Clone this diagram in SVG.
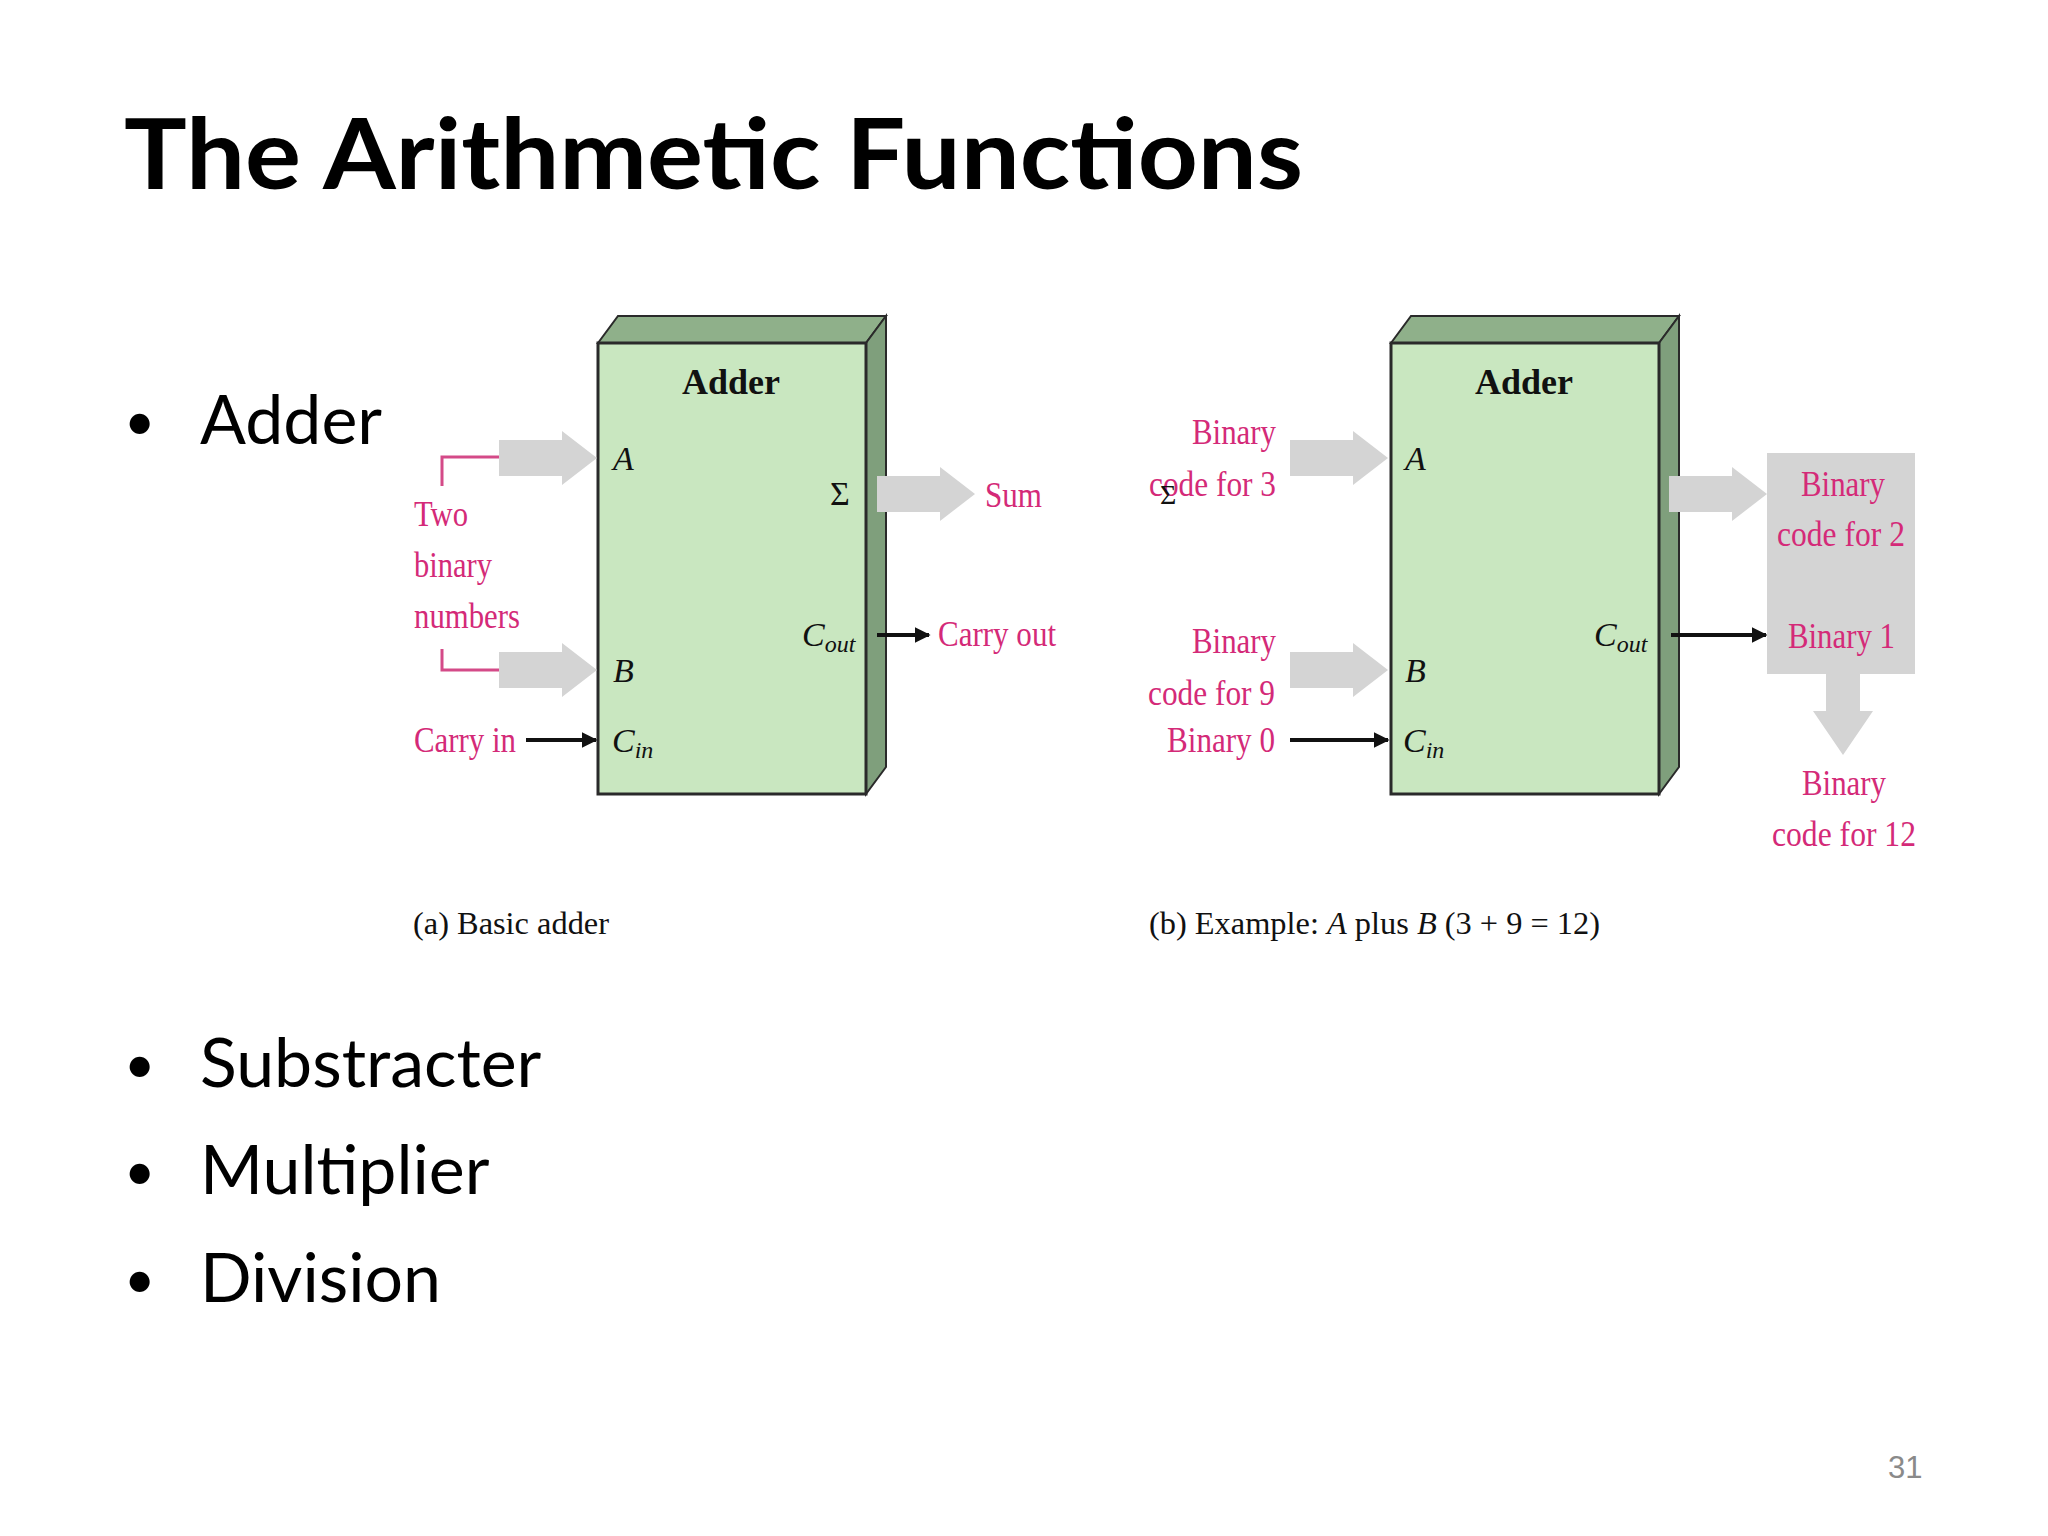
<svg xmlns="http://www.w3.org/2000/svg" width="2048" height="1536" viewBox="0 0 2048 1536">
<style>
.title{font-family:Lato,"Open Sans",sans-serif;font-weight:bold;font-size:98px;fill:#000}
.bul{font-family:Lato,"Open Sans",sans-serif;font-size:68px;fill:#000}
.dot{font-family:Lato,"Open Sans",sans-serif;font-size:54px;fill:#000}
.pk{font-family:"Liberation Serif",serif;font-size:36px;fill:#d42a78}
.lb{font-family:"Liberation Serif",serif;font-size:34px;fill:#111;font-style:italic}
.sub{font-size:24px}
.hd{font-family:"Liberation Serif",serif;font-size:36px;font-weight:bold;fill:#111}
.cap{font-family:"Liberation Serif",serif;font-size:32px;fill:#111}
.front{fill:#c9e7c0;stroke:#2a2a2a;stroke-width:3}
.top{fill:#8fb08a;stroke:#2a2a2a;stroke-width:2}
.side{fill:#7f9f7c;stroke:#2a2a2a;stroke-width:2}
.garr{fill:#d4d4d4}
.br{fill:none;stroke:#d44a88;stroke-width:3}
.blk{stroke:#111;stroke-width:4;marker-end:url(#ah)}
</style>
<defs>
<marker id="ah" viewBox="0 0 10 10" refX="9" refY="5" markerWidth="4" markerHeight="4" orient="auto" markerUnits="strokeWidth"><path d="M0,0 L10,5 L0,10 z" fill="#111"/></marker>
<path id="garrow" d="M0,-18 L63,-18 L63,-27 L98,0 L63,27 L63,18 L0,18 z"/>
</defs>
<rect width="2048" height="1536" fill="#fff"/>
<text class="title" x="124" y="189" textLength="1179" lengthAdjust="spacingAndGlyphs">The Arithmetic Functions</text>
<g id="bullets">
<text class="dot" x="124" y="440">•</text><text class="bul" x="200" y="444">Adder</text>
<text class="dot" x="124" y="1083">•</text><text class="bul" x="200" y="1087">Substracter</text>
<text class="dot" x="124" y="1190">•</text><text class="bul" x="200" y="1194">Multiplier</text>
<text class="dot" x="124" y="1298">•</text><text class="bul" x="200" y="1302">Division</text>
</g>
<g id="adderA">
<polygon class="top" points="598,343 618,316 886,316 866,343"/>
<polygon class="side" points="866,343 886,316 886,767 866,794"/>
<rect class="front" x="598" y="343" width="268" height="451"/>
<text class="hd" x="731" y="394" text-anchor="middle">Adder</text>
<text class="lb" x="613" y="470">A</text>
<text class="lb" x="830" y="505" style="font-style:normal">Σ</text>
<text class="lb" x="613" y="682">B</text>
<text class="lb" x="612" y="752">C<tspan class="sub" dy="6">in</tspan></text>
<text class="lb" x="802" y="646">C<tspan class="sub" dy="6">out</tspan></text>
</g>
<g id="adderB">
<polygon class="top" points="1391,343 1411,316 1679,316 1659,343"/>
<polygon class="side" points="1659,343 1679,316 1679,767 1659,794"/>
<rect class="front" x="1391" y="343" width="268" height="451"/>
<text class="hd" x="1524" y="394" text-anchor="middle">Adder</text>
<text class="lb" x="1405" y="470">A</text>
<text class="lb" x="1405" y="682">B</text>
<text class="lb" x="1403" y="752">C<tspan class="sub" dy="6">in</tspan></text>
<text class="lb" x="1594" y="646">C<tspan class="sub" dy="6">out</tspan></text>
</g>
<g id="connectors">
<use href="#garrow" class="garr" x="499" y="458"/>
<use href="#garrow" class="garr" x="499" y="670"/>
<use href="#garrow" class="garr" x="877" y="494"/>
<polyline class="br" points="499,457 442,457 442,486"/>
<polyline class="br" points="442,649 442,670 499,670"/>
<line class="blk" x1="526" y1="740" x2="596" y2="740"/>
<line class="blk" x1="877" y1="635" x2="929" y2="635"/>
<use href="#garrow" class="garr" x="1290" y="458"/>
<use href="#garrow" class="garr" x="1290" y="670"/>
<use href="#garrow" class="garr" x="1669" y="494"/>
<line class="blk" x1="1290" y1="740" x2="1388" y2="740"/>
<line class="blk" x1="1671" y1="635" x2="1766" y2="635"/>
<rect x="1767" y="453" width="148" height="221" fill="#d4d4d4"/>
<path class="garr" d="M1826,674 L1860,674 L1860,711 L1873,711 L1843,755 L1813,711 L1826,711 z"/>
</g>
<g id="labelsA">
<text class="pk" x="414" y="526" textLength="54" lengthAdjust="spacingAndGlyphs">Two</text>
<text class="pk" x="414" y="577" textLength="78" lengthAdjust="spacingAndGlyphs">binary</text>
<text class="pk" x="414" y="628" textLength="106" lengthAdjust="spacingAndGlyphs">numbers</text>
<text class="pk" x="414" y="752" textLength="102" lengthAdjust="spacingAndGlyphs">Carry in</text>
<text class="pk" x="985" y="507" textLength="57" lengthAdjust="spacingAndGlyphs">Sum</text>
<text class="pk" x="938" y="646" textLength="118" lengthAdjust="spacingAndGlyphs">Carry out</text>
<text class="cap" x="413" y="934" textLength="196" lengthAdjust="spacingAndGlyphs">(a)  Basic adder</text>
</g>
<g id="labelsB">
<text class="pk" x="1192" y="444" textLength="84" lengthAdjust="spacingAndGlyphs">Binary</text>
<text class="pk" x="1149" y="496" textLength="127" lengthAdjust="spacingAndGlyphs">code for 3</text>
<text class="lb" x="1160" y="504" style="font-style:normal;font-size:28px">Σ</text>
<text class="pk" x="1192" y="653" textLength="84" lengthAdjust="spacingAndGlyphs">Binary</text>
<text class="pk" x="1148" y="705" textLength="127" lengthAdjust="spacingAndGlyphs">code for 9</text>
<text class="pk" x="1167" y="752" textLength="108" lengthAdjust="spacingAndGlyphs">Binary 0</text>
<text class="pk" x="1801" y="496" textLength="84" lengthAdjust="spacingAndGlyphs">Binary</text>
<text class="pk" x="1777" y="546" textLength="128" lengthAdjust="spacingAndGlyphs">code for 2</text>
<text class="pk" x="1788" y="648" textLength="107" lengthAdjust="spacingAndGlyphs">Binary 1</text>
<text class="pk" x="1802" y="795" textLength="84" lengthAdjust="spacingAndGlyphs">Binary</text>
<text class="pk" x="1772" y="846" textLength="144" lengthAdjust="spacingAndGlyphs">code for 12</text>
<text class="cap" x="1149" y="934" textLength="451" lengthAdjust="spacingAndGlyphs">(b)  Example:  <tspan font-style="italic">A</tspan> plus <tspan font-style="italic">B</tspan> (3 + 9 = 12)</text>
</g>
<text x="1888" y="1478" style="font-family:'Liberation Sans',sans-serif;font-size:31px;fill:#8a8a8a">31</text>
</svg>
